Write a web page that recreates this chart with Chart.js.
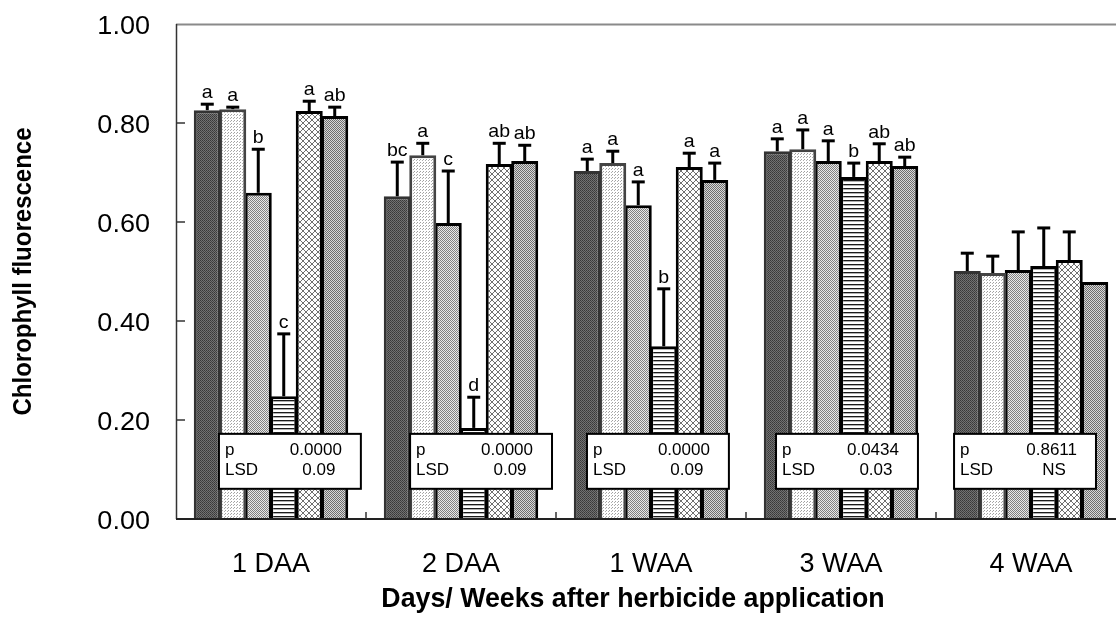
<!DOCTYPE html>
<html>
<head>
<meta charset="utf-8">
<title>Chlorophyll fluorescence</title>
<script src="https://cdn.jsdelivr.net/npm/chart.js@4.4.4/dist/chart.umd.min.js"></script>
<style>
  html, body { margin: 0; padding: 0; background: #fff; overflow: hidden; width: 1116px; height: 617px; }
  canvas { display: block; }
</style>
</head>
<body>
<canvas id="chart" width="1126" height="617"></canvas>
<script>
/* ── Data ─────────────────────────────────────────────────────────── */
const categories = ["1 DAA", "2 DAA", "1 WAA", "3 WAA", "4 WAA"];

// mean chlorophyll fluorescence per treatment
const trt1 = [0.826, 0.652, 0.703, 0.743, 0.501];
const trt2 = [0.828, 0.735, 0.719, 0.747, 0.497];
const trt3 = [0.659, 0.598, 0.634, 0.723, 0.503];
const trt4 = [0.248, 0.184, 0.349, 0.691, 0.511];
const trt5 = [0.824, 0.717, 0.711, 0.723, 0.523];
const trt6 = [0.814, 0.723, 0.685, 0.713, 0.479];

// upper error bar (SE) per treatment
const se1 = [0.012, 0.069, 0.024, 0.025, 0.036];
const se2 = [0.004, 0.024, 0.024, 0.039, 0.034];
const se3 = [0.088, 0.105, 0.047, 0.041, 0.077];
const se4 = [0.126, 0.062, 0.116, 0.028, 0.077];
const se5 = [0.020, 0.042, 0.028, 0.035, 0.057];
const se6 = [0.018, 0.032, 0.034, 0.018, null];

// mean separation letters
const lt1 = ["a", "bc", "a", "a", ""];
const lt2 = ["a", "a", "a", "a", ""];
const lt3 = ["b", "c", "a", "a", ""];
const lt4 = ["c", "d", "b", "b", ""];
const lt5 = ["a", "ab", "a", "ab", ""];
const lt6 = ["ab", "ab", "a", "ab", ""];

const pValues   = ["0.0000", "0.0000", "0.0000", "0.0434", "0.8611"];
const lsdValues = ["0.09", "0.09", "0.09", "0.03", "NS"];

const yTicks = [0, 0.2, 0.4, 0.6, 0.8, 1.0];

/* ── Layout ───────────────────────────────────────────────────────── */
const FONT = '"Liberation Sans", Arial, sans-serif';
const boxLeft = [-0.274, -0.268, -0.337, -0.342, -0.405];  // stat box left, in category units
const BOX_W = 0.747, BOX_TOP = 0.172, BOX_BOT = 0.061;

/* ── Fill patterns ────────────────────────────────────────────────── */
function pattern(w, h, paint) {
  const c = document.createElement("canvas");
  c.width = w; c.height = h;
  const g = c.getContext("2d");
  paint(g);
  return g.createPattern(c, "repeat");
}
function px(g, x, y, col) { g.fillStyle = col; g.fillRect(x, y, 1, 1); }
function fillAll(g, w, h, col) { g.fillStyle = col; g.fillRect(0, 0, w, h); }

const fills = [
  pattern(2, 2, g => { fillAll(g, 2, 2, "#727272"); px(g, 0, 0, "#383838"); px(g, 1, 1, "#444"); }),
  pattern(3, 3, g => { fillAll(g, 3, 3, "#fff"); px(g, 0, 0, "#a0a0a0"); px(g, 2, 1, "#b0b0b0"); }),
  pattern(2, 2, g => { fillAll(g, 2, 2, "#e8e8e8"); px(g, 0, 0, "#808080"); px(g, 1, 1, "#808080"); }),
  pattern(1, 4, g => { fillAll(g, 1, 4, "#fff"); px(g, 0, 0, "#1a1a1a"); px(g, 0, 1, "#b0b0b0"); }),
  pattern(6, 6, g => { fillAll(g, 6, 6, "#fff"); for (let i = 0; i < 6; i++) { px(g, i, i, "#707070"); px(g, i, 5 - i, "#707070"); } }),
  pattern(2, 2, g => { fillAll(g, 2, 2, "#d8d8d8"); px(g, 0, 0, "#6e6e6e"); px(g, 1, 1, "#6e6e6e"); })
];
const borders = ["#333", "#444", "#000", "#000", "#000", "#000"];

const series  = [trt1, trt2, trt3, trt4, trt5, trt6];
const errs    = [se1, se2, se3, se4, se5, se6];
const letters = [lt1, lt2, lt3, lt4, lt5, lt6];

/* ── Drawing helpers ──────────────────────────────────────────────── */
function txt(ctx, s, x, y, size, bold, align, sx, rot) {
  ctx.save();
  ctx.translate(x, y);
  ctx.scale(sx, 1);
  if (rot) ctx.rotate(rot);
  ctx.font = (bold ? "bold " : "") + size + "px " + FONT;
  ctx.textAlign = align;
  ctx.textBaseline = "alphabetic";
  ctx.fillStyle = "#000";
  ctx.fillText(s, 0, 0);
  ctx.restore();
}
function line(ctx, x1, y1, x2, y2, col, w) {
  ctx.beginPath(); ctx.moveTo(x1, y1); ctx.lineTo(x2, y2);
  ctx.strokeStyle = col; ctx.lineWidth = w; ctx.stroke();
}

const decorations = {
  id: "decorations",
  afterDatasetsDraw(chart) {
    const ctx = chart.ctx, x = chart.scales.x, y = chart.scales.y, a = chart.chartArea;

    // error bars (upper only)
    series.forEach((vals, d) => {
      const meta = chart.getDatasetMeta(d);
      vals.forEach((v, i) => {
        const e = errs[d][i];
        if (e == null) return;
        const bar = meta.data[i];
        const top = y.getPixelForValue(v + e);
        line(ctx, bar.x, bar.y, bar.x, top, "#000", 3);
        line(ctx, bar.x - 6.5, top, bar.x + 6.5, top, "#000", 3);
      });
    });

    // letters
    series.forEach((vals, d) => {
      const meta = chart.getDatasetMeta(d);
      vals.forEach((v, i) => {
        const s = letters[d][i];
        if (!s) return;
        const top = y.getPixelForValue(v + (errs[d][i] || 0));
        txt(ctx, s, meta.data[i].x, top - 6, 19, false, "center", 1.03);
      });
    });

    // p / LSD boxes
    const catW = x.getPixelForValue(1) - x.getPixelForValue(0);
    categories.forEach((c, i) => {
      const left = x.getPixelForValue(i) + boxLeft[i] * catW;
      const right = left + BOX_W * catW;
      const top = y.getPixelForValue(BOX_TOP), bot = y.getPixelForValue(BOX_BOT);
      ctx.fillStyle = "#fff";
      ctx.fillRect(left, top, right - left, bot - top);
      ctx.strokeStyle = "#000"; ctx.lineWidth = 2;
      ctx.strokeRect(left, top, right - left, bot - top);
      txt(ctx, "p", left + 6, top + 21, 17, false, "left", 1.0);
      txt(ctx, pValues[i], right - 19, top + 21, 17, false, "right", 1.0);
      txt(ctx, "LSD", left + 6, top + 41, 17, false, "left", 1.0);
      txt(ctx, lsdValues[i], right - 42, top + 41, 17, false, "center", 1.0);
    });

    // axes frame
    line(ctx, a.left, a.top + 0.5, a.right, a.top + 0.5, "#8a8a8a", 2);
    line(ctx, a.left + 0.5, a.top, a.left + 0.5, a.bottom, "#333", 1.5);
    line(ctx, a.left, a.bottom, a.right, a.bottom, "#222", 2);

    // y ticks (inward) and labels
    yTicks.forEach(t => {
      const py = y.getPixelForValue(t);
      if (t > 0 && t < 1) line(ctx, a.left, py, a.left + 9, py, "#333", 1.5);
      txt(ctx, t.toFixed(2), 150, py + 9.5, 26, false, "right", 1.04);
    });

    // x ticks between groups (inward) and labels
    categories.forEach((c, i) => {
      const cx = x.getPixelForValue(i);
      if (i > 0) {
        const bx = (x.getPixelForValue(i - 1) + cx) / 2;
        line(ctx, bx, a.bottom, bx, a.bottom - 7, "#333", 1.5);
      }
      txt(ctx, c, cx, 572, 27, false, "center", 1.0);
    });

    // axis titles
    txt(ctx, "Days/ Weeks after herbicide application", 633, 607, 28, true, "center", 0.955);
    txt(ctx, "Chlorophyll fluorescence", 31, (a.top + a.bottom) / 2, 24, true, "center", 1.1, -Math.PI / 2);
  }
};

/* ── Chart ────────────────────────────────────────────────────────── */
new Chart(document.getElementById("chart"), {
  type: "bar",
  data: {
    labels: categories,
    datasets: series.map((vals, d) => ({
      data: vals,
      backgroundColor: fills[d],
      borderColor: borders[d],
      borderWidth: 3,
      borderSkipped: "start",
      categoryPercentage: 0.805,
      barPercentage: 1.06
    }))
  },
  options: {
    responsive: false,
    animation: false,
    devicePixelRatio: 1,
    layout: { padding: { left: 0, right: 0, top: 24, bottom: 0 } },
    plugins: { legend: { display: false }, tooltip: { enabled: false } },
    scales: {
      x: {
        ticks: { display: false },
        grid: { display: false },
        border: { display: false },
        afterFit: s => { s.height = 98; }
      },
      y: {
        min: 0, max: 1,
        ticks: { display: false, stepSize: 0.2 },
        grid: { display: false },
        border: { display: false },
        afterFit: s => { s.width = 176; }
      }
    }
  },
  plugins: [decorations]
});
</script>
</body>
</html>
